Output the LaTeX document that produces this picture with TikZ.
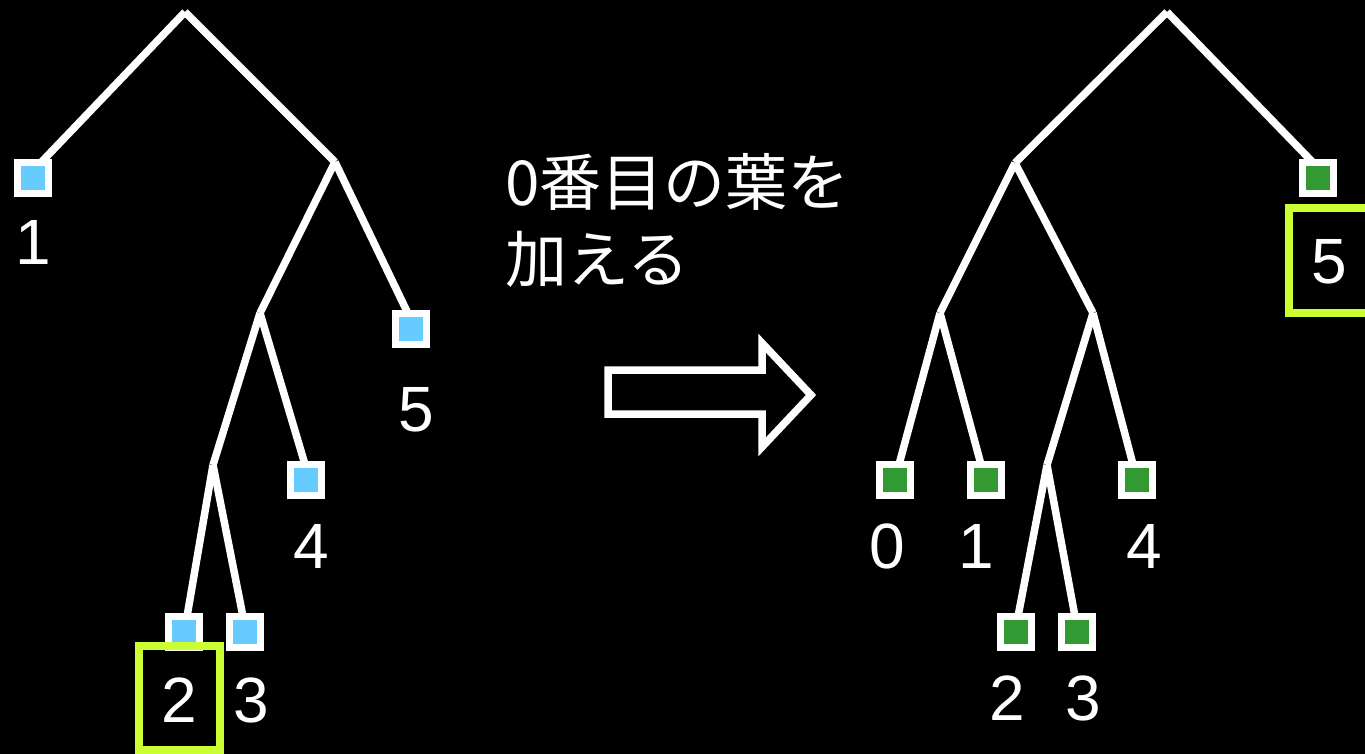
\documentclass[tikz,border=0pt]{standalone}
\usepackage{fontspec}
\setmainfont{Liberation Sans}
\newfontfamily\jp{Noto Sans CJK JP}
\definecolor{leafblue}{HTML}{66CCFF}
\definecolor{leafgreen}{HTML}{339933}
\definecolor{hilite}{HTML}{CCFF33}
\begin{document}
\begin{tikzpicture}[x=1pt,y=-1pt,
  edge/.style={draw=white, line width=7.5pt, line cap=butt},
  leafbox/.style={draw=white, line width=7.5pt, minimum size=31pt, inner sep=0pt, outer sep=0pt, shape=rectangle},
  bleaf/.style={leafbox, fill=leafblue},
  gleaf/.style={leafbox, fill=leafgreen},
  num/.style={text=white, font=\fontsize{64}{70}\selectfont, inner sep=0pt},
  jptext/.style={anchor=base west, text=white, inner sep=0pt, font=\jp\fontsize{62}{70}\selectfont},
  hibox/.style={draw=hilite, line width=8pt}]
\fill[black] (0,0) rectangle (1365,754);
\useasboundingbox (0,0) rectangle (1365,754);
\clip (0,0) rectangle (1365,754);
% ---------- left tree ----------
\coordinate (r) at (185,12);
\coordinate (a) at (335,162);
\coordinate (b) at (260,313);
\coordinate (c) at (213,465);
\node[bleaf] (l1) at (33,178) {};
\node[bleaf] (l5) at (411,329) {};
\node[bleaf] (l4) at (306,480) {};
\node[bleaf] (l2) at (184,632) {};
\node[bleaf] (l3) at (245,632) {};
\draw[edge] (r) -- ([xshift=8pt]l1.north);
\draw[edge] (r) -- (a);
\draw[edge] (a) -- (b);
\draw[edge] (a) -- ([xshift=-3pt]l5.north);
\draw[edge] (b) -- (c);
\draw[edge] (b) -- ([xshift=-1pt]l4.north);
\draw[edge] (c) -- ([xshift=3pt]l2.north);
\draw[edge] (c) -- ([xshift=-2pt]l3.north);
\node[num] (t1) at (33,242) {1};
\node[num] (t5) at (416,410) {5};
\node[num] (t4) at (311,546) {4};
\node[num] (t2) at (179,700) {2};
\node[num] (t3) at (251,700) {3};
\draw[hibox] (139,646) rectangle (220,750);
% ---------- text and arrow ----------
\node[jptext] (msg1) at (505,206) {0番目の葉を};
\node[jptext] (msg2) at (505,282) {加える};
\draw[draw=white, line width=7.5pt, line join=miter]
  (608,370) -- (762,370) -- (762,343) -- (811,395) -- (762,447) -- (762,414) -- (608,414) -- cycle;
% ---------- right tree ----------
\coordinate (R) at (1167,12);
\coordinate (A) at (1015,163);
\coordinate (B) at (940,313);
\coordinate (C) at (1093,313);
\coordinate (D) at (1047,465);
\node[gleaf] (m5) at (1318,178) {};
\node[gleaf] (m0) at (895,480) {};
\node[gleaf] (m1) at (986,480) {};
\node[gleaf] (m4) at (1137,480) {};
\node[gleaf] (m2) at (1016,632) {};
\node[gleaf] (m3) at (1077,632) {};
\draw[edge] (R) -- (A);
\draw[edge] (R) -- ([xshift=-5pt]m5.north);
\draw[edge] (A) -- (B);
\draw[edge] (A) -- (C);
\draw[edge] (B) -- ([xshift=4pt]m0.north);
\draw[edge] (B) -- ([xshift=-5pt]m1.north);
\draw[edge] (C) -- (D);
\draw[edge] (C) -- ([xshift=-4pt]m4.north);
\draw[edge] (D) -- ([xshift=2pt]m2.north);
\draw[edge] (D) -- ([xshift=-2pt]m3.north);
\node[num] (u0) at (887,546) {0};
\node[num] (u1) at (976,546) {1};
\node[num] (u4) at (1144,546) {4};
\node[num] (u2) at (1007,698) {2};
\node[num] (u3) at (1083,698) {3};
\node[num] (u5) at (1329,262) {5};
\draw[hibox] (1289,208) rectangle (1380,313);
\end{tikzpicture}
\end{document}
